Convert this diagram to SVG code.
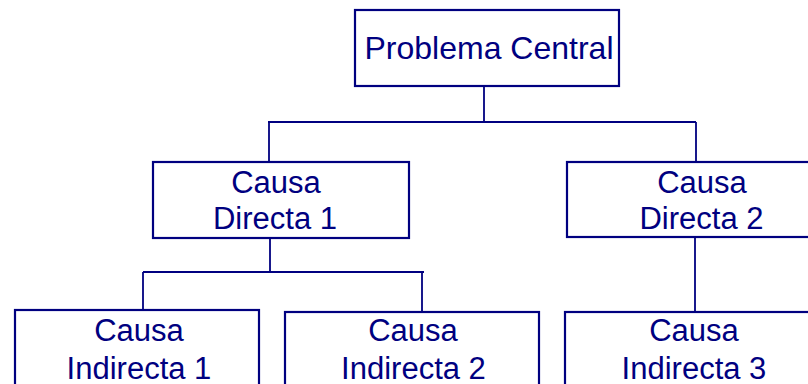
<svg xmlns="http://www.w3.org/2000/svg" width="808" height="384" viewBox="0 0 808 384">
<style>
.box{fill:#fff;stroke:#000080;stroke-width:2.2}
.con{fill:none;stroke:#000080;stroke-width:1.8}
text{font-family:"Liberation Sans",Arial,sans-serif;font-size:31px;fill:#000080;text-anchor:middle}
.big{font-size:32px}
</style>
<rect width="808" height="384" fill="#fff"/>
<g id="connectors">
<path class="con" d="M484 86V122M268 122H696M269 122V162M696 122V162"/>
<path class="con" d="M270 238V272M143 272H424M143 272V310M422 272V312"/>
<path class="con" d="M695 237V312"/>
</g>
<g id="problema-central">
<rect class="box" x="355" y="10" width="264" height="76"/>
<text class="big" x="489" y="58.5">Problema Central</text>
</g>
<g id="causa-directa-1">
<rect class="box" x="153" y="162" width="256" height="76"/>
<text x="276" y="192.5">Causa</text>
<text x="275" y="229">Directa 1</text>
</g>
<g id="causa-directa-2">
<rect class="box" x="567" y="162" width="270" height="75"/>
<text x="702" y="192.5">Causa</text>
<text x="701.5" y="229">Directa 2</text>
</g>
<g id="causa-indirecta-1">
<rect class="box" x="15" y="310" width="244" height="100"/>
<text x="139" y="341">Causa</text>
<text x="139" y="378.5">Indirecta 1</text>
</g>
<g id="causa-indirecta-2">
<rect class="box" x="285" y="312" width="254" height="100"/>
<text x="413" y="341">Causa</text>
<text x="413.5" y="378.5">Indirecta 2</text>
</g>
<g id="causa-indirecta-3">
<rect class="box" x="565" y="312" width="270" height="100"/>
<text x="694" y="341">Causa</text>
<text x="694" y="378.5">Indirecta 3</text>
</g>
</svg>
